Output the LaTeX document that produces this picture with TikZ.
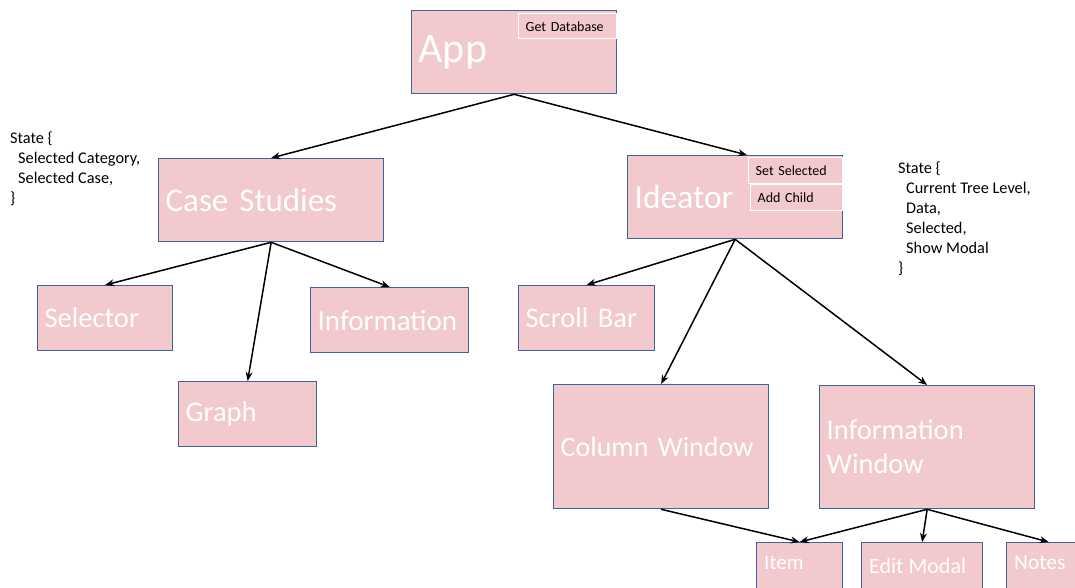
\documentclass[tikz,border=0pt]{standalone}
\usepackage{fontspec}
\setmainfont{Carlito}
\usetikzlibrary{arrows.meta,calc}
\definecolor{boxpink}{HTML}{F2C9CD}
\definecolor{boxedge}{HTML}{41619F}
\begin{document}
\begin{tikzpicture}[x=1pt,y=-1pt,
  box/.style={draw=boxedge, fill=boxpink, line width=1.3pt, anchor=north west,
    inner xsep=7pt, inner ysep=0pt, align=left, text=white},
  plain/.style={draw=boxedge, fill=boxpink, line width=1.3pt, anchor=north west,
    inner sep=0pt},
  tag/.style={draw=white, fill=boxpink, line width=1.4pt, anchor=north west,
    inner xsep=7pt, inner ysep=0pt, align=left, text=black, font=\fontsize{14}{16}\selectfont},
  lbl/.style={text=white, anchor=base west, inner sep=0pt},
  statetxt/.style={anchor=north west, align=left, inner sep=0pt,
    font=\fontsize{16.3}{20}\selectfont},
  link/.style={-{Stealth[length=9pt,width=7pt]}, line width=1.5pt, black}]
\useasboundingbox (0,0) rectangle (1075,587);

% top level
\node[box, text width=191pt, minimum height=83pt, font=\fontsize{42}{44}\selectfont] (app) at (411,10) {App};
\node[tag, text width=84pt, minimum height=25pt] (getdb) at (518,13) {Get Database};

% second level
\node[box, text width=211pt, minimum height=83pt, font=\fontsize{33}{36}\selectfont] (cs) at (158,158) {Case Studies};
\node[box, text width=201pt, minimum height=83pt, font=\fontsize{33.5}{36}\selectfont] (id) at (627,155) {Ideator};
\node[tag, text width=80pt, minimum height=26pt] (setsel) at (748,157) {Set Selected};
\node[tag, text width=78pt, minimum height=26pt] (addch) at (750,184) {Add Child};

% children of Case Studies
\node[box, text width=121pt, minimum height=65pt, font=\fontsize{28.5}{32}\selectfont] (sel) at (37,285) {Selector};
\node[box, text width=124pt, minimum height=65pt, font=\fontsize{28.5}{32}\selectfont] (graph) at (178,381) {Graph};
\node[box, text width=144pt, minimum height=65pt, font=\fontsize{29}{32}\selectfont] (info) at (310,287) {Information};

% children of Ideator
\node[box, text width=122pt, minimum height=65pt, font=\fontsize{28.5}{32}\selectfont] (sb) at (518,285) {Scroll Bar};
\node[box, text width=201pt, minimum height=124pt, font=\fontsize{28}{34}\selectfont] (cw) at (553,384) {Column Window};
\node[box, text width=201pt, minimum height=123pt, font=\fontsize{28.5}{34}\selectfont] (iw) at (819,385) {Information\\Window};

% leaves
\node[plain, minimum width=86pt, minimum height=60pt] (item) at (756,542) {};
\node[plain, minimum width=121pt, minimum height=60pt] (edit) at (861,542) {};
\node[plain, minimum width=84pt, minimum height=60pt] (notes) at (1006,542) {};
\node[lbl, font=\fontsize{21}{24}\selectfont] at (764,569) {Item};
\node[lbl, font=\fontsize{22}{24}\selectfont] at (869,573) {Edit Modal};
\node[lbl, font=\fontsize{21.5}{24}\selectfont] at (1014,569) {Notes};

% component state
\node[statetxt] (csstate) at (10,132) {State \{\\\hspace*{8pt}Selected Category,\\\hspace*{8pt}Selected Case,\\\}};
\node[statetxt] (idstate) at (898,162) {State \{\\\hspace*{8pt}Current Tree Level,\\\hspace*{8pt}Data,\\\hspace*{8pt}Selected,\\\hspace*{8pt}Show Modal\\\}};

% connectors
\draw[link] (app.south) -- (cs.north);
\draw[link] (app.south) -- ($(id.north west)+(120,0)$);
\draw[link] (cs.south) -- (sel.north);
\draw[link] (cs.south) -- (graph.north);
\draw[link] (cs.south) -- (info.north);
\draw[link] (id.south) -- (sb.north);
\draw[link] (id.south) -- (cw.north);
\draw[link] (id.south) -- (iw.north);
\draw[link] (cw.south) -- (item.north);
\draw[link] (iw.south) -- (item.north);
\draw[link] (iw.south) -- (edit.north);
\draw[link] (iw.south) -- (notes.north);
\end{tikzpicture}
\end{document}
